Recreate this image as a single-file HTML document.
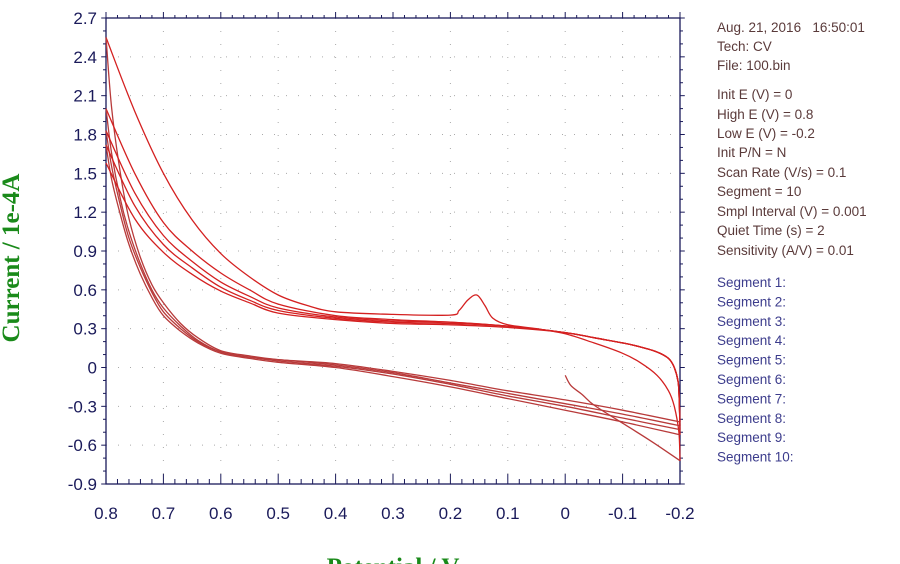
<!DOCTYPE html>
<html><head><meta charset="utf-8"><style>
html,body{margin:0;padding:0;background:#fff;width:900px;height:564px;overflow:hidden}
svg{display:block}
#info text{white-space:pre}
</style></head><body>
<svg id="chart" width="900" height="564" xmlns="http://www.w3.org/2000/svg" font-family="Liberation Sans, Arial, sans-serif">
<g id="grid"></g>
<g id="axes"></g>
<g id="series"></g>
<text transform="translate(19,258) rotate(-90)" text-anchor="middle" font-family="Liberation Serif, serif" font-weight="bold" font-size="25" fill="#1a8a1a">Current / 1e-4A</text>
<text x="393" y="575" text-anchor="middle" font-family="Liberation Serif, serif" font-weight="bold" font-size="25" fill="#1a8a1a">Potential / V</text>
<g id="info" font-size="13.5" fill="#5a3a3a"></g>
<g id="segs" font-size="13.5" fill="#3c3c8c"></g>
</svg>
<script>
const xTicks=[0.8,0.7,0.6,0.5,0.4,0.3,0.2,0.1,0,-0.1,-0.2];
const xTickLabels=["0.8","0.7","0.6","0.5","0.4","0.3","0.2","0.1","0","-0.1","-0.2"];
const yTicks=[2.7,2.4,2.1,1.8,1.5,1.2,0.9,0.6,0.3,0,-0.3,-0.6,-0.9];
const yTickLabels=["2.7","2.4","2.1","1.8","1.5","1.2","0.9","0.6","0.3","0","-0.3","-0.6","-0.9"];
const seg1=[[0,-0.06],[-0.01,-0.14],[-0.03,-0.21],[-0.05,-0.29],[-0.1,-0.43],[-0.15,-0.57],[-0.2,-0.72]];
const seg2=[[-0.2,-0.72],[-0.198,-0.5],[-0.19,-0.3],[-0.18,-0.18],[-0.16,-0.06],[-0.13,0.04],[-0.1,0.11],[-0.05,0.19],[0,0.26],[0.05,0.3],[0.1,0.33],[0.126,0.38],[0.14,0.48],[0.154,0.56],[0.17,0.52],[0.185,0.44],[0.2,0.405],[0.3,0.41],[0.4,0.43],[0.45,0.48],[0.5,0.56],[0.55,0.7],[0.6,0.88],[0.65,1.14],[0.7,1.5],[0.75,1.98],[0.8,2.55]];
const seg3=[[0.8,2.55],[0.79,2.0],[0.775,1.5],[0.76,1.15],[0.74,0.85],[0.72,0.64],[0.7,0.5],[0.67,0.34],[0.64,0.23],[0.6,0.13],[0.55,0.09],[0.5,0.06],[0.4,0.03],[0.3,-0.03],[0.2,-0.1],[0.1,-0.18],[0,-0.25],[-0.1,-0.33],[-0.2,-0.42]];
const seg4=[[-0.2,-0.42],[-0.199,-0.3],[-0.197,-0.12],[-0.19,0.0],[-0.18,0.07],[-0.16,0.12],[-0.13,0.16],[-0.1,0.19],[-0.05,0.23],[0,0.27],[0.1,0.32],[0.2,0.35],[0.3,0.37],[0.4,0.4],[0.5,0.49],[0.55,0.6],[0.6,0.73],[0.65,0.9],[0.7,1.12],[0.75,1.5],[0.8,2.0]];
const seg5=[[0.8,2.0],[0.79,1.65],[0.775,1.3],[0.76,1.05],[0.74,0.8],[0.72,0.6],[0.7,0.46],[0.67,0.32],[0.64,0.21],[0.6,0.12],[0.55,0.08],[0.5,0.06],[0.4,0.02],[0.3,-0.04],[0.2,-0.12],[0.1,-0.2],[0,-0.28],[-0.1,-0.36],[-0.2,-0.45]];
const seg6=[[-0.2,-0.45],[-0.199,-0.3],[-0.197,-0.12],[-0.19,0.0],[-0.18,0.07],[-0.16,0.12],[-0.13,0.16],[-0.1,0.19],[-0.05,0.23],[0,0.27],[0.1,0.32],[0.2,0.35],[0.3,0.36],[0.4,0.39],[0.5,0.46],[0.55,0.55],[0.6,0.66],[0.65,0.82],[0.7,1.02],[0.75,1.35],[0.8,1.83]];
const seg7=[[0.8,1.83],[0.79,1.55],[0.775,1.25],[0.76,1.0],[0.74,0.77],[0.72,0.58],[0.7,0.43],[0.67,0.3],[0.64,0.2],[0.6,0.12],[0.55,0.08],[0.5,0.05],[0.4,0.01],[0.3,-0.05],[0.2,-0.13],[0.1,-0.22],[0,-0.3],[-0.1,-0.39],[-0.2,-0.48]];
const seg8=[[-0.2,-0.48],[-0.199,-0.3],[-0.197,-0.12],[-0.19,0.0],[-0.18,0.07],[-0.16,0.12],[-0.13,0.16],[-0.1,0.19],[-0.05,0.23],[0,0.27],[0.1,0.32],[0.2,0.34],[0.3,0.35],[0.4,0.38],[0.5,0.44],[0.55,0.52],[0.6,0.62],[0.65,0.77],[0.7,0.95],[0.75,1.25],[0.8,1.72]];
const seg9=[[0.8,1.72],[0.79,1.45],[0.775,1.18],[0.76,0.95],[0.74,0.72],[0.72,0.54],[0.7,0.4],[0.67,0.28],[0.64,0.19],[0.6,0.11],[0.55,0.07],[0.5,0.04],[0.4,0.0],[0.3,-0.07],[0.2,-0.15],[0.1,-0.24],[0,-0.33],[-0.1,-0.42],[-0.2,-0.52]];
const seg10=[[-0.2,-0.52],[-0.199,-0.3],[-0.197,-0.12],[-0.19,0.0],[-0.18,0.07],[-0.16,0.12],[-0.13,0.16],[-0.1,0.19],[-0.05,0.23],[0,0.27],[0.1,0.31],[0.2,0.33],[0.3,0.34],[0.4,0.37],[0.5,0.42],[0.55,0.5],[0.6,0.59],[0.65,0.72],[0.7,0.89],[0.75,1.15],[0.8,1.58]];
const segments=[seg1,seg2,seg3,seg4,seg5,seg6,seg7,seg8,seg9,seg10];
const infoLines=[["Aug. 21, 2016   16:50:01",27],["Tech: CV",46],["File: 100.bin",65],["Init E (V) = 0",94],["High E (V) = 0.8",114],["Low E (V) = -0.2",133],["Init P/N = N",152],["Scan Rate (V/s) = 0.1",172],["Segment = 10",191],["Smpl Interval (V) = 0.001",211],["Quiet Time (s) = 2",230],["Sensitivity (A/V) = 0.01",250]];
const segLabels=["Segment 1:","Segment 2:","Segment 3:","Segment 4:","Segment 5:","Segment 6:","Segment 7:","Segment 8:","Segment 9:","Segment 10:"];

const L=106,R=680,T=18,B=484;
const xs=v=>L+(0.8-v)/1.0*(R-L);
const ys=v=>T+(2.7-v)/3.6*(B-T);
const NS="http://www.w3.org/2000/svg";
function mk(tag,attrs,parent){const e=document.createElementNS(NS,tag);for(const k in attrs)e.setAttribute(k,attrs[k]);parent.appendChild(e);return e;}
const grid=document.getElementById('grid'),axes=document.getElementById('axes'),series=document.getElementById('series');
xTicks.forEach((v,i)=>{if(i==0||i==xTicks.length-1)return;const g=mk('line',{x1:xs(v),x2:xs(v),y1:T,y2:B,stroke:'#aaa','stroke-width':1,'stroke-dasharray':'1 12'},grid);

});
yTicks.forEach((v,i)=>{if(i==0||i==yTicks.length-1)return;const g=mk('line',{x1:L,x2:R,y1:ys(v),y2:ys(v),stroke:'#aaa','stroke-width':1,'stroke-dasharray':'1 11'},grid);

});
const fr=mk('rect',{x:L,y:T,width:R-L,height:B-T,fill:'none',stroke:'#1a1a5a','stroke-width':1.3},axes);


for(let k=0;k<=50;k++){const v=0.8-k*0.02;const x=xs(v);const len=(k%5==0)?10:5;
mk('line',{x1:x,x2:x,y1:B,y2:B-len,stroke:'#1a1a5a'},axes);mk('line',{x1:x,x2:x,y1:T,y2:T-len*0.6,stroke:'#1a1a5a'},axes);}
for(let k=0;k<=36;k++){const v=2.7-k*0.1;const y=ys(v);const len=(k%3==0)?8:5;
mk('line',{x1:L,x2:L-len*0.6,y1:y,y2:y,stroke:'#1a1a5a'},axes);mk('line',{x1:R,x2:R+len*0.6,y1:y,y2:y,stroke:'#1a1a5a'},axes);}
xTicks.forEach((v,i)=>{const t=mk('text',{x:xs(v),y:519,'text-anchor':'middle','font-size':17,fill:'#1a1a5a'},axes);t.textContent=xTickLabels[i];

});
yTicks.forEach((v,i)=>{const t=mk('text',{x:97,y:ys(v)+6,'text-anchor':'end','font-size':17,fill:'#1a1a5a'},axes);t.textContent=yTickLabels[i];

});
function smooth(pts){
  let d='M'+pts[0][0].toFixed(1)+','+pts[0][1].toFixed(1);
  for(let i=0;i<pts.length-1;i++){
    const p0=pts[Math.max(0,i-1)],p1=pts[i],p2=pts[i+1],p3=pts[Math.min(pts.length-1,i+2)];
    const c1=[p1[0]+(p2[0]-p0[0])/6,p1[1]+(p2[1]-p0[1])/6];
    const c2=[p2[0]-(p3[0]-p1[0])/6,p2[1]-(p3[1]-p1[1])/6];
    d+=' C'+c1[0].toFixed(1)+','+c1[1].toFixed(1)+' '+c2[0].toFixed(1)+','+c2[1].toFixed(1)+' '+p2[0].toFixed(1)+','+p2[1].toFixed(1);
  }
  return d;
}
segments.forEach((s,i)=>{const d=smooth(s.map(p=>[xs(p[0]),ys(p[1])]));
const p=mk('path',{d:d,fill:'none',stroke:i%2?'#d42020':'#b83a3a','stroke-width':1.3,'stroke-linejoin':'round'},series);

});
const info=document.getElementById('info');
infoLines.forEach(l=>{const t=mk('text',{x:717,y:l[1]+5},info);t.textContent=l[0];
t.setAttribute('xml:space','preserve');

});
const segs=document.getElementById('segs');
segLabels.forEach((l,i)=>{const t=mk('text',{x:717,y:287+i*19.4},segs);t.textContent=l;

});
</script>
</body></html>
